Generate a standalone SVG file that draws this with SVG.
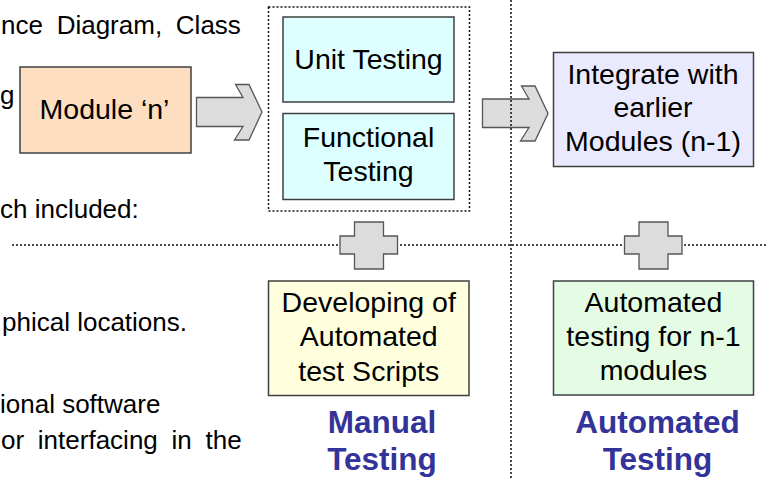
<svg xmlns="http://www.w3.org/2000/svg" width="766" height="480" viewBox="0 0 766 480">
<style>
  text { font-family: "Liberation Sans", Arial, sans-serif; fill: #000; }
  .side { font-size: 26px; }
  .lbl { font-size: 28.5px; text-anchor: middle; }
  .big { font-size: 31.5px; font-weight: bold; fill: #333399; text-anchor: middle; }
  .box { stroke: #404040; stroke-width: 1.5; }
  .arrow { fill: #DCDCDC; stroke: #555; stroke-width: 1.3; stroke-linejoin: miter; }
  .dot { stroke: #111; stroke-width: 1.5; stroke-dasharray: 2 2; fill: none; }
</style>
<rect width="766" height="480" fill="#fff"/>

<g id="sidetext">
  <text class="side" x="1" y="34" word-spacing="6.5">nce Diagram, Class</text>
  <text class="side" x="0" y="104">g</text>
  <text class="side" x="0" y="218">ch included:</text>
  <text class="side" x="2" y="331">phical locations.</text>
  <text class="side" x="0" y="413">ional software</text>
  <text class="side" x="1" y="449" word-spacing="6.5">or interfacing in the</text>
</g>

<g id="connectors">
  <path class="arrow" d="M196.5,97.5 H243 L235.5,84.5 H249 L262,112 L249,140 H234.5 L243,126.5 H196.5 Z"/>
  <path class="arrow" d="M482.5,99 H529 L521.5,86 H535 L548,113.5 L535,141 H520.5 L529,127.5 H482.5 Z"/>
  <line class="dot" x1="12" y1="245" x2="766" y2="245"/>
  <line class="dot" x1="511" y1="0" x2="511" y2="480"/>
  <rect class="dot" x="268.5" y="7" width="201" height="204"/>
  <path class="arrow" d="M354.5,222 H383.5 V236 H397.5 V254 H383.5 V269 H354.5 V254 H340 V236 H354.5 Z"/>
  <path class="arrow" d="M639,222 H668 V236 H682 V254 H668 V269 H639 V254 H624.5 V236 H639 Z"/>
</g>

<g id="module-n">
  <rect class="box" x="20" y="67" width="171" height="86" fill="#FDDEC0"/>
  <text class="lbl" x="104.5" y="119">Module ‘n’</text>
</g>

<g id="unit-testing">
  <rect class="box" x="283" y="17" width="171" height="85" fill="#DDFFFF"/>
  <text class="lbl" x="368.5" y="69">Unit Testing</text>
</g>

<g id="functional-testing">
  <rect class="box" x="283" y="113.5" width="171" height="86" fill="#DDFFFF"/>
  <text class="lbl" x="368.5" y="147">Functional</text>
  <text class="lbl" x="368.5" y="180.5">Testing</text>
</g>

<g id="integrate">
  <rect class="box" x="553.5" y="52.5" width="200" height="114" fill="#EAEAFF"/>
  <text class="lbl" x="653" y="84">Integrate with</text>
  <text class="lbl" x="653" y="117">earlier</text>
  <text class="lbl" x="653" y="151">Modules (n-1)</text>
</g>

<g id="developing">
  <rect class="box" x="268.5" y="281" width="200.5" height="114.5" fill="#FFFFDD"/>
  <text class="lbl" x="368.75" y="312">Developing of</text>
  <text class="lbl" x="368.75" y="346">Automated</text>
  <text class="lbl" x="368.75" y="380.5">test Scripts</text>
</g>

<g id="automated-n1">
  <rect class="box" x="553.5" y="281" width="200" height="114" fill="#E3FCE3"/>
  <text class="lbl" x="653.5" y="312">Automated</text>
  <text class="lbl" x="653.5" y="346">testing for n-1</text>
  <text class="lbl" x="653.5" y="379.5">modules</text>
</g>

<g id="manual-label">
  <text class="big" x="382" y="433">Manual</text>
  <text class="big" x="382" y="470">Testing</text>
</g>

<g id="automated-label">
  <text class="big" x="657.5" y="433">Automated</text>
  <text class="big" x="657.5" y="470">Testing</text>
</g>
</svg>
